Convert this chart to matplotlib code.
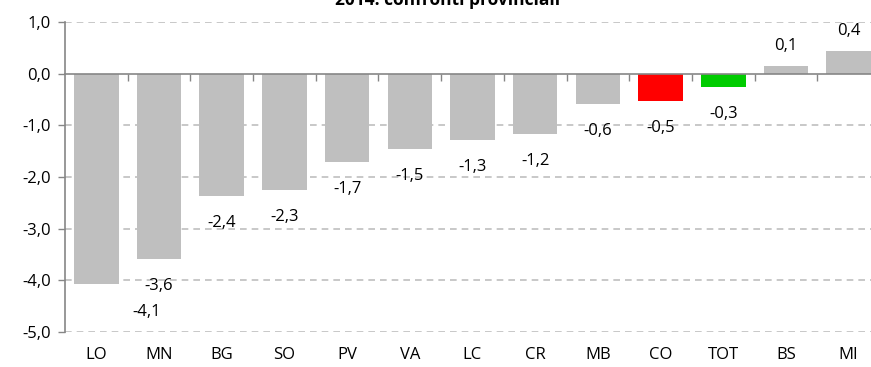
import matplotlib.pyplot as plt
import matplotlib.transforms as mtransforms

# data
categories = ['LO', 'MN', 'BG', 'SO', 'PV', 'VA', 'LC', 'CR', 'MB', 'CO', 'TOT', 'BS', 'MI']
values = [-4.07, -3.58, -2.36, -2.25, -1.71, -1.46, -1.29, -1.16, -0.58, -0.52, -0.25, 0.15, 0.43]
labels = ['-4,1', '-3,6', '-2,4', '-2,3', '-1,7', '-1,5', '-1,3', '-1,2', '-0,6', '-0,5', '-0,3', '0,1', '0,4']
yticks = [1, 0, -1, -2, -3, -4, -5]

plt.rcParams['font.family'] = ['Open Sans', 'DejaVu Sans']
FS = 12

colors = ['#BFBFBF'] * len(values)
colors[categories.index('CO')] = '#FF0000'
colors[categories.index('TOT')] = '#00CC00'

W, H = 871, 367
fig = plt.figure(figsize=(W / 100, H / 100), dpi=100)
ax = fig.add_axes([65 / W, (H - 332) / H, (880 - 65) / W, (332 - 22) / H])

x = list(range(len(categories)))
ax.bar(x, values, width=0.71, color=colors, zorder=3)

ax.set_xlim(-0.5, len(categories) - 0.5)
ax.set_ylim(-5, 1)

# y axis
ax.set_yticks(yticks)
ax.set_yticklabels([f'{v:.1f}'.replace('.', ',') for v in yticks], fontsize=FS)
ax.tick_params(axis='y', length=5, width=1, color='#868686', pad=5)
for v in yticks:
    if v != 0:
        ax.axhline(v, color='#BFBFBF', lw=1.2, ls=(0, (4, 3)), zorder=1)

# x axis at zero with tick marks between categories
for s in ['top', 'right']:
    ax.spines[s].set_visible(False)
ax.spines['left'].set_color('#868686')
ax.spines['left'].set_linewidth(1.2)
ax.spines['bottom'].set_position(('data', 0))
ax.spines['bottom'].set_color('#868686')
ax.spines['bottom'].set_linewidth(1.2)
ax.spines['bottom'].set_zorder(4)
ax.set_xticks([i + 0.5 for i in x[:-1]])
ax.set_xticklabels([])
ax.tick_params(axis='x', length=5, width=1, color='#868686', direction='out')

trans = mtransforms.blended_transform_factory(ax.transData, ax.transAxes)
for i, c in zip(x, categories):
    ax.text(i, -0.075, c, transform=trans, ha='center', va='center', fontsize=FS)

# data labels (offsets in pixels, converted to points)
for i, (v, lab) in enumerate(zip(values, labels)):
    dx, dy = (0, -27) if v < 0 else (0, 20)
    if categories[i] == 'LO':
        dx, dy = 50, -28
    ax.annotate(lab, (i, v), xytext=(dx * 0.72, dy * 0.72), textcoords='offset points',
                ha='center', va='center', fontsize=FS)

fig.text(448 / W, 1 - 5 / H, '2014: confronti provinciali', ha='center', va='baseline',
         fontsize=12.5, fontweight='bold')

fig.savefig('out.png', dpi=100)
